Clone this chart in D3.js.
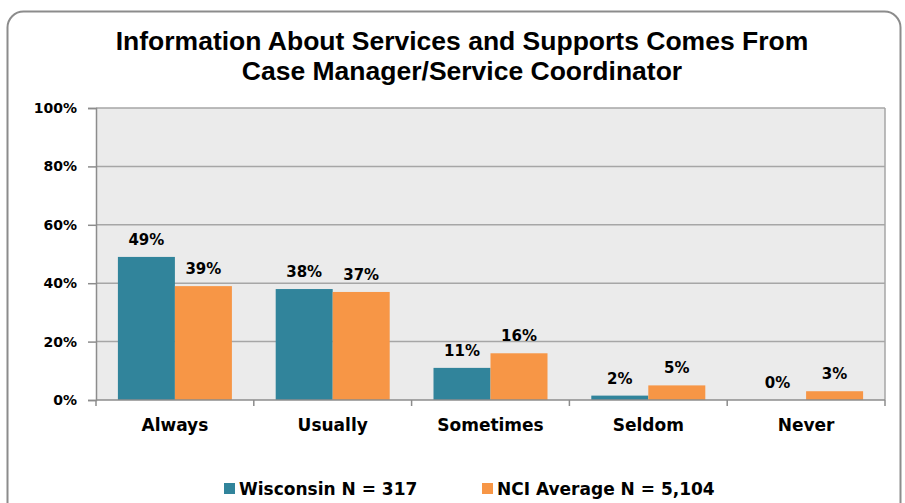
<!DOCTYPE html>
<html>
<head>
<meta charset="utf-8">
<script src="https://cdn.jsdelivr.net/npm/d3@7"></script>
<style>
  body { margin: 0; background: #fff; }
  svg { display: block; }
  text { font-family: "DejaVu Sans", Verdana, sans-serif; font-weight: bold; fill: #000; }
  .title { font-family: "Liberation Sans", Arial, sans-serif; }
</style>
</head>
<body>
<svg width="905" height="503"></svg>
<script>
// chart data
const categories = ['Always', 'Usually', 'Sometimes', 'Seldom', 'Never'];
const wisconsin = [49, 38, 11, 1.5, 0];
const nciAverage = [39, 37, 16, 5, 3];
const seriesNames = ['Wisconsin N = 317', 'NCI Average N = 5,104'];
const seriesColors = ['#31849B', '#F79646'];
const yTicks = [0, 20, 40, 60, 80, 100];

const svg = d3.select('svg');

// outer frame, rounded, runs off the bottom of the picture
svg.append('rect')
    .attr('x', 7.5).attr('y', 11.5)
    .attr('width', 893).attr('height', 520)
    .attr('rx', 16)
    .attr('fill', '#fff')
    .attr('stroke', '#8c8c8c')
    .attr('stroke-width', 2);

// title
const title = svg.append('text')
    .attr('class', 'title')
    .attr('text-anchor', 'middle')
    .style('font-size', '26.5px');
title.append('tspan').attr('x', 462).attr('y', 50).text('Information About Services and Supports Comes From');
title.append('tspan').attr('x', 462).attr('y', 80).text('Case Manager/Service Coordinator');

const plot = { left: 96, right: 885, top: 108, bottom: 400 };

const x = d3.scaleBand()
    .domain(categories)
    .range([plot.left, plot.right])
    .padding(0);

const y = d3.scaleLinear()
    .domain([0, 100])
    .range([plot.bottom, plot.top]);

const barW = 57;

// plot background
svg.append('rect')
    .attr('x', plot.left).attr('y', plot.top)
    .attr('width', plot.right - plot.left).attr('height', plot.bottom - plot.top)
    .attr('fill', '#ebebeb');

// gridlines
svg.append('g')
    .selectAll('line')
    .data(yTicks.filter(d => d > 0))
    .enter()
    .append('line')
        .attr('x1', plot.left).attr('x2', plot.right)
        .attr('y1', d => y(d)).attr('y2', d => y(d))
        .attr('stroke', '#a6a6a6')
        .attr('stroke-width', 1.5);

// right border of plot
svg.append('line')
    .attr('x1', plot.right).attr('x2', plot.right)
    .attr('y1', plot.top).attr('y2', plot.bottom)
    .attr('stroke', '#a6a6a6').attr('stroke-width', 1.5);

// y axis
const yAxis = svg.append('g')
    .attr('transform', `translate(${plot.left},0)`)
    .call(d3.axisLeft(y).tickValues(yTicks).tickSize(8).tickPadding(11).tickFormat(d => d + '%'));
yAxis.selectAll('line').attr('stroke', '#8c8c8c').attr('stroke-width', 1.5);
yAxis.select('.domain').attr('stroke', '#8c8c8c').attr('stroke-width', 1.5);
yAxis.selectAll('text')
    .style('font-family', '"DejaVu Sans", Verdana, sans-serif')
    .style('font-weight', 'bold')
    .style('font-size', '14px');

// bars
const groups = [wisconsin, nciAverage];
groups.forEach((values, s) => {
    svg.append('g')
        .selectAll('rect')
        .data(values)
        .enter()
        .append('rect')
            .attr('x', (d, i) => x(categories[i]) + x.bandwidth() / 2 - barW + s * barW)
            .attr('y', d => y(d))
            .attr('width', barW)
            .attr('height', d => y(0) - y(d))
            .attr('fill', seriesColors[s]);

    svg.append('g')
        .selectAll('text')
        .data(values)
        .enter()
        .append('text')
            .attr('x', (d, i) => x(categories[i]) + x.bandwidth() / 2 - barW / 2 + s * barW)
            .attr('y', d => y(d) - 12)
            .attr('text-anchor', 'middle')
            .style('font-size', '15px')
            .text(d => Math.round(d) + '%');
});

// x axis
const xAxis = svg.append('g')
    .attr('transform', `translate(0,${plot.bottom})`);
xAxis.append('line')
    .attr('x1', plot.left).attr('x2', plot.right)
    .attr('y1', 0).attr('y2', 0)
    .attr('stroke', '#8c8c8c').attr('stroke-width', 1.5);
xAxis.selectAll('.tick')
    .data(categories.map(c => x(c)).concat([plot.right]))
    .enter()
    .append('line')
        .attr('x1', d => d).attr('x2', d => d)
        .attr('y1', 0).attr('y2', 6)
        .attr('stroke', '#8c8c8c').attr('stroke-width', 1.5);
xAxis.selectAll('text')
    .data(categories)
    .enter()
    .append('text')
        .attr('x', d => x(d) + x.bandwidth() / 2)
        .attr('y', 31)
        .attr('text-anchor', 'middle')
        .style('font-size', '17px')
        .text(d => d);

// legend
const legendX = [224, 482];
const legend = svg.append('g');
seriesNames.forEach((name, i) => {
    legend.append('rect')
        .attr('x', legendX[i]).attr('y', 483)
        .attr('width', 11).attr('height', 11)
        .attr('fill', seriesColors[i]);
    legend.append('text')
        .attr('x', legendX[i] + 15).attr('y', 495)
        .style('font-size', '17px')
        .text(name);
});
</script>
</body>
</html>
